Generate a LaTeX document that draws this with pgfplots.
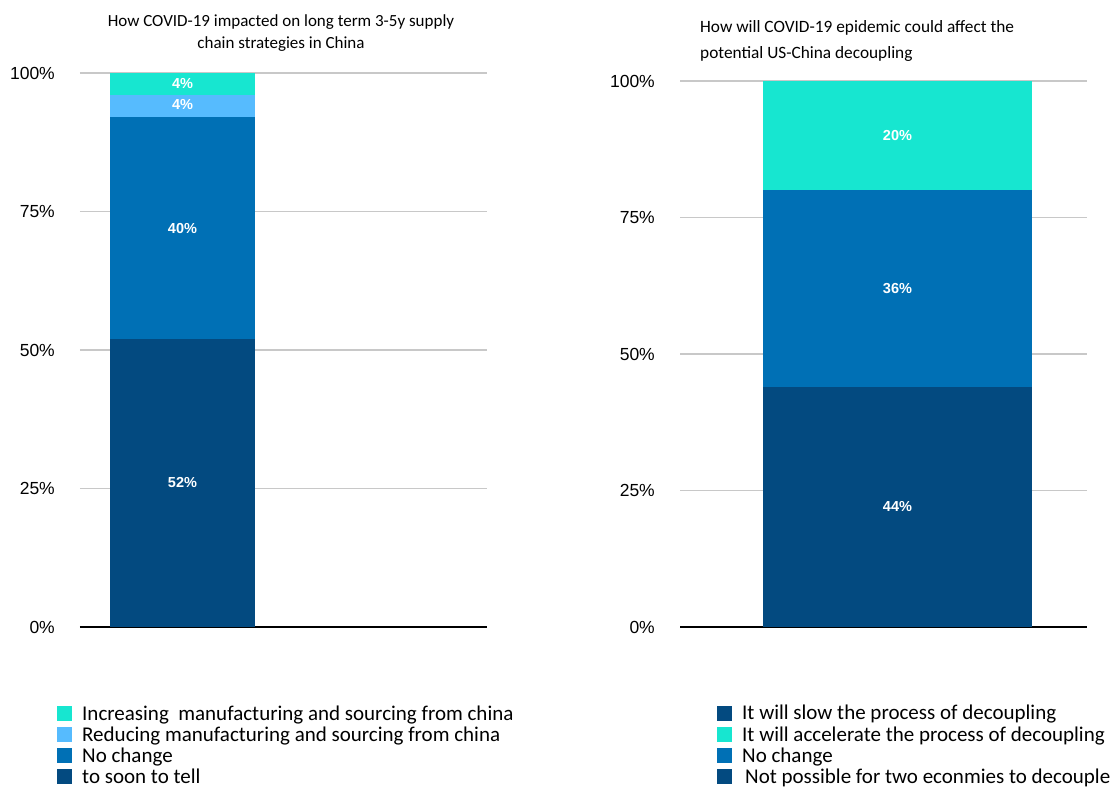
\documentclass[border=0pt]{standalone}
\usepackage{pgfplots}
\pgfplotsset{compat=1.18}
\usepackage{fontspec}
\setmainfont{Carlito}
\newfontfamily\tickfont{Liberation Sans}
\definecolor{cNavy}{HTML}{034A80}
\definecolor{cMid}{HTML}{0070B5}
\definecolor{cLight}{HTML}{56BBFE}
\definecolor{cTeal}{HTML}{17E6D0}
\definecolor{cGrid}{HTML}{C8C8C8}
\tikzset{lab/.style={font=\tickfont\bfseries\fontsize{14.5}{14.5}\selectfont, text=white}}
\pgfplotsset{
  sq/.style={draw=none, legend image code/.code={\fill[##1] (0pt,-7.5pt) rectangle (15pt,7.5pt);}},
  common/.style={
    scale only axis, width=407pt,
    xmin=0, xmax=1, ymin=0, ymax=100,
    enlargelimits=false,
    ybar stacked,
    axis line style={draw=none},
    xtick=\empty,
    ytick={0,25,50,75,100},
    yticklabels={0\%,25\%,50\%,75\%,100\%},
    major tick length=0pt,
    ymajorgrids,
    grid style={cGrid, line width=1.5pt},
    extra y ticks={0},
    extra y tick labels={},
    extra y tick style={grid style={black, line width=2.5pt}},
    yticklabel style={font=\tickfont\fontsize{17.5}{17.5}\selectfont, anchor=east, inner sep=0pt, xshift=-25pt},
    legend style={draw=none, fill=none, inner sep=0pt, anchor=north west,
      font=\fontsize{21}{21}\selectfont, cells={anchor=west}, row sep=1pt,
      /tikz/every odd column/.append style={column sep=8pt}},
    legend cell align=left,
    reverse legend,
  },
}
\begin{document}
\begin{tikzpicture}[x=1pt,y=1pt]
\useasboundingbox (0,0) rectangle (1114,787);
% left
\begin{axis}[common, at={(80pt,160pt)}, anchor=south west, height=554pt, bar width=145pt,
  legend style={at={(-0.0565,-0.1380)}},
  after end axis/.code={
    \node[lab] at (axis cs:0.2518,26) {52\%};
    \node[lab] at (axis cs:0.2518,72) {40\%};
    \node[lab] at (axis cs:0.2518,94.3) {4\%};
    \node[lab] at (axis cs:0.2518,98.1) {4\%};
  }]
\addplot[sq, fill=cNavy] coordinates {(0.2518,52)};
\addlegendentry{to soon to tell}
\addplot[sq, fill=cMid] coordinates {(0.2518,40)};
\addlegendentry{No change}
\addplot[sq, fill=cLight] coordinates {(0.2518,4)};
\addlegendentry{Reducing manufacturing and sourcing from china}
\addplot[sq, fill=cTeal] coordinates {(0.2518,4)};
\addlegendentry{Increasing\ \ manufacturing and sourcing from china}
\end{axis}
% right
\begin{axis}[common, at={(680pt,160pt)}, anchor=south west, height=546pt, bar width=269pt,
  legend style={at={(0.0909,-0.1395)}},
  after end axis/.code={
    \node[lab] at (axis cs:0.5344,22) {44\%};
    \node[lab] at (axis cs:0.5344,62) {36\%};
    \node[lab] at (axis cs:0.5344,90) {20\%};
  }]
\addplot[sq, fill=cNavy] coordinates {(0.5344,44)};
\addlegendentry{\hspace{3pt}Not possible for two econmies to decouple}
\addplot[sq, fill=cMid] coordinates {(0.5344,36)};
\addlegendentry{No change}
\addplot[sq, fill=cTeal] coordinates {(0.5344,20)};
\addlegendentry{It will accelerate the process of decoupling}
\addplot[sq, fill=cNavy] coordinates {(0.5344,0)};
\addlegendentry{It will slow the process of decoupling}
\end{axis}
% titles
\node[align=center, font=\fontsize{17}{22.5}\selectfont] at (281,754) {How COVID-19 impacted on long term 3-5y supply\\chain strategies in China};
\node[align=left, anchor=west, font=\fontsize{17.3}{25.5}\selectfont, inner sep=0pt] at (700,746) {How will COVID-19 epidemic could affect the\\potential US-China decoupling};
\end{tikzpicture}
\end{document}
